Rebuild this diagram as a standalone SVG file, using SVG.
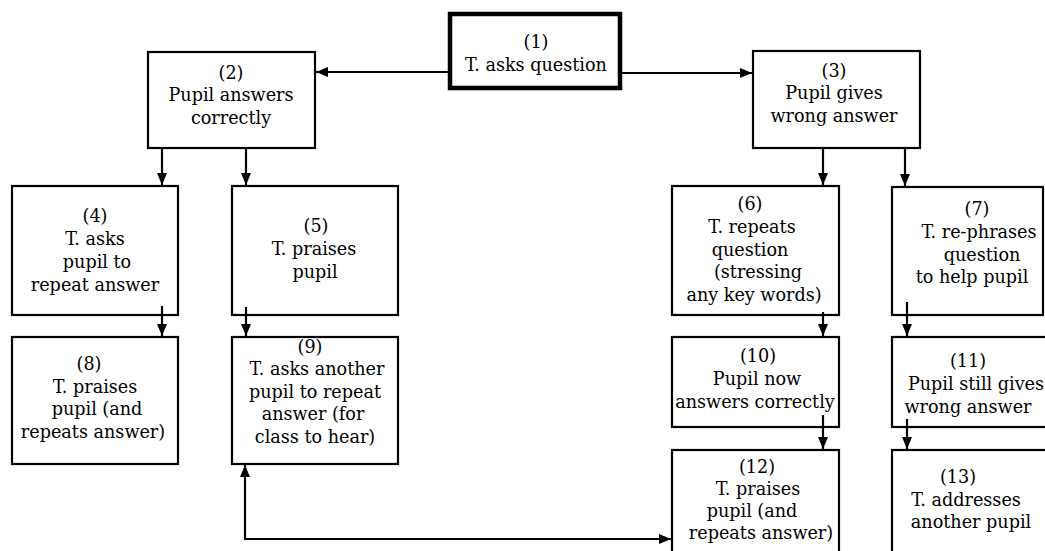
<svg xmlns="http://www.w3.org/2000/svg" width="1045" height="551" viewBox="0 0 1045 551">
<style>
.box{fill:#fff;stroke:#000;stroke-width:2.2}
.thick{fill:#fff;stroke:#000;stroke-width:4.5}
.lbl{font-family:'DejaVu Serif',serif;font-size:17.6px;fill:#000;text-anchor:middle}
.con{fill:none;stroke:#000;stroke-width:2.2}
</style>
<defs>
<marker id="ah" viewBox="0 0 12 10" refX="12" refY="5" markerWidth="12" markerHeight="10" markerUnits="userSpaceOnUse" orient="auto">
<path d="M0,0 L12,5 L0,10 Z" fill="#000"/>
</marker>
</defs>
<rect width="1045" height="551" fill="#fff"/>
<g id="n1">
<rect class="thick" x="450" y="14" width="170" height="74"/>
<text class="lbl"><tspan x="536" y="48">(1)</tspan><tspan x="536" y="71">T. asks question</tspan></text>
</g>
<g id="n2">
<rect class="box" x="148" y="52" width="167" height="96"/>
<text class="lbl"><tspan x="231" y="79">(2)</tspan><tspan x="231" y="101">Pupil answers</tspan><tspan x="231" y="124">correctly</tspan></text>
</g>
<g id="n3">
<rect class="box" x="753" y="51" width="167" height="97"/>
<text class="lbl"><tspan x="834" y="77">(3)</tspan><tspan x="834" y="99">Pupil gives</tspan><tspan x="834" y="122">wrong answer</tspan></text>
</g>
<g id="n4">
<rect class="box" x="12" y="186" width="166" height="129"/>
<text class="lbl"><tspan x="95" y="222">(4)</tspan><tspan x="95" y="245">T. asks</tspan><tspan x="97" y="268">pupil to</tspan><tspan x="95" y="291">repeat answer</tspan></text>
</g>
<g id="n5">
<rect class="box" x="232" y="186" width="166" height="129"/>
<text class="lbl"><tspan x="316" y="232">(5)</tspan><tspan x="314" y="255">T. praises</tspan><tspan x="315" y="278">pupil</tspan></text>
</g>
<g id="n6">
<rect class="box" x="672" y="186" width="167" height="129"/>
<text class="lbl"><tspan x="750" y="210">(6)</tspan><tspan x="752" y="233">T. repeats</tspan><tspan x="750" y="256">question</tspan><tspan x="758" y="278">(stressing</tspan><tspan x="754" y="301">any key words)</tspan></text>
</g>
<g id="n7">
<rect class="box" x="892" y="187" width="151" height="128"/>
<text class="lbl"><tspan x="977" y="215">(7)</tspan><tspan x="979" y="238">T. re-phrases</tspan><tspan x="982" y="261">question</tspan><tspan x="972" y="283">to help pupil</tspan></text>
</g>
<g id="n8">
<rect class="box" x="12" y="337" width="166" height="127"/>
<text class="lbl"><tspan x="89" y="370">(8)</tspan><tspan x="95" y="393">T. praises</tspan><tspan x="97" y="415">pupil (and</tspan><tspan x="93" y="438">repeats answer)</tspan></text>
</g>
<g id="n9">
<rect class="box" x="232" y="337" width="166" height="127"/>
<text class="lbl"><tspan x="310" y="353">(9)</tspan><tspan x="317" y="375">T. asks another</tspan><tspan x="315" y="398">pupil to repeat</tspan><tspan x="313" y="420">answer (for</tspan><tspan x="315" y="443">class to hear)</tspan></text>
</g>
<g id="n10">
<rect class="box" x="672" y="337" width="167" height="90"/>
<text class="lbl"><tspan x="758" y="362">(10)</tspan><tspan x="757" y="385">Pupil now</tspan><tspan x="755" y="408">answers correctly</tspan></text>
</g>
<g id="n11">
<rect class="box" x="892" y="337" width="160" height="90"/>
<text class="lbl"><tspan x="968" y="367">(11)</tspan><tspan x="976" y="390">Pupil still gives</tspan><tspan x="968" y="413">wrong answer</tspan></text>
</g>
<g id="n12">
<rect class="box" x="672" y="450" width="167" height="110"/>
<text class="lbl"><tspan x="757" y="473">(12)</tspan><tspan x="758" y="495">T. praises</tspan><tspan x="752" y="517">pupil (and</tspan><tspan x="761" y="539">repeats answer)</tspan></text>
</g>
<g id="n13">
<rect class="box" x="892" y="450" width="160" height="110"/>
<text class="lbl"><tspan x="958" y="483">(13)</tspan><tspan x="966" y="506">T. addresses</tspan><tspan x="971" y="528">another pupil</tspan></text>
</g>
<g id="connectors">
<path class="con" d="M448,72 L316,72" marker-end="url(#ah)"/>
<path class="con" d="M622,73 L752,73" marker-end="url(#ah)"/>
<path class="con" d="M162,148 L162,185" marker-end="url(#ah)"/>
<path class="con" d="M246,148 L246,185" marker-end="url(#ah)"/>
<path class="con" d="M823,148 L823,185" marker-end="url(#ah)"/>
<path class="con" d="M905,148 L905,186" marker-end="url(#ah)"/>
<path class="con" d="M162,306 L162,336" marker-end="url(#ah)"/>
<path class="con" d="M246,307 L246,336" marker-end="url(#ah)"/>
<path class="con" d="M823,312 L823,336" marker-end="url(#ah)"/>
<path class="con" d="M907,302 L907,336" marker-end="url(#ah)"/>
<path class="con" d="M823,415 L823,449" marker-end="url(#ah)"/>
<path class="con" d="M907,419 L907,449" marker-end="url(#ah)"/>
<path class="con" d="M672,539 L245,539 L245,465" marker-end="url(#ah)"/>
<path class="con" d="M250,539 L671,539" marker-end="url(#ah)"/>
</g>
</svg>
